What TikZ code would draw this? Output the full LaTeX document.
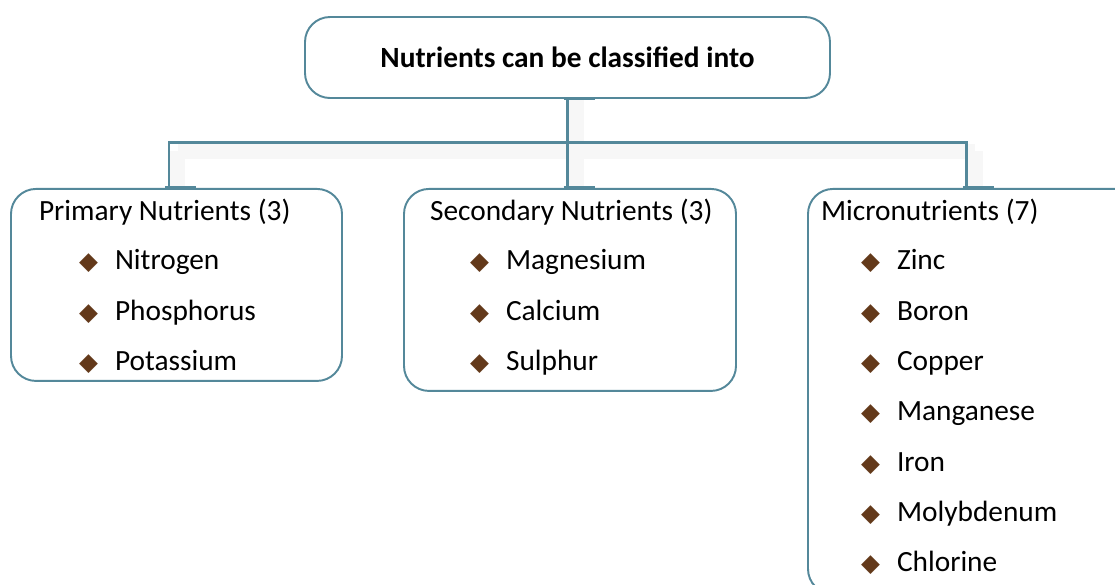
\documentclass[tikz,border=0pt]{standalone}
\usepackage{fontspec}
\setmainfont{Carlito}
\newfontfamily\markfont{DejaVu Sans}
\usetikzlibrary{positioning,calc}
\definecolor{SlateLine}{RGB}{84,136,154}
\definecolor{NutBrown}{RGB}{99,57,26}
\newcommand{\nutmark}{\makebox[0.72cm][l]{\textcolor{NutBrown}{\markfont\fontsize{14}{14}\selectfont ◆}}}
\tikzset{
  link/.style={draw=SlateLine,line width=1.7pt},
  haze/.style={draw=black!3,line width=0.3cm},
  groupbox/.style={draw=SlateLine,line width=1.1pt,rounded corners=0.5cm,fill=white},
  titlebox/.style={groupbox,minimum width=10.5cm,minimum height=1.62cm,
    font=\fontsize{16.7}{20}\selectfont\bfseries},
  headline/.style={inner sep=0pt,outer sep=0pt,text height=0.4cm,text depth=0.1cm,anchor=north west,
    font=\fontsize{16.7}{20}\selectfont},
  entry/.style={headline}
}

\begin{document}
\begin{tikzpicture}
  \useasboundingbox (0,0) rectangle (22.3,-11.68);
  \clip (0,0) rectangle (22.3,-11.68);
  \node[titlebox] (title) at (11.35,-1.15) {Nutrients can be classified into};
  \node[groupbox,below=1.78cm of title,xshift=-7.82cm,minimum width=6.62cm,minimum height=3.84cm] (primary) {};
  \node[groupbox,below=1.78cm of title,xshift=0.05cm,minimum width=6.64cm,minimum height=4.04cm] (secondary) {};
  \node[groupbox,below=1.78cm of title,xshift=8.13cm,minimum width=6.64cm,minimum height=8.1cm] (micro) {};
  \coordinate (bus) at ($(title.south)+(0,-0.88)$);
  \coordinate (lfoot) at ([xshift=-0.15cm]primary.north);
  \coordinate (rfoot) at ([xshift=-0.15cm]micro.north);
  \coordinate (mfoot) at (bus |- secondary.north);
  \draw[haze] ($(title.south)+(0.17,0)$) -- ($(mfoot)+(0.17,0)$);
  \draw[haze] ($(lfoot |- bus)+(0.17,-0.17)$) -- ($(rfoot |- bus)+(0.17,-0.17)$);
  \draw[haze] ($(lfoot |- bus)+(0.17,-0.17)$) -- ($(lfoot)+(0.17,0)$);
  \draw[haze] ($(rfoot |- bus)+(0.17,-0.17)$) -- ($(rfoot)+(0.17,0)$);
  \draw[link] (title.south) -- (bus);
  \draw[link] (lfoot) |- (rfoot |- bus) -- (rfoot);
  \draw[link] (bus) -- (mfoot);
  \draw[link] ([xshift=-0.08cm]title.south) -- ++(0.62,0);
  \draw[link] ([xshift=-0.08cm]lfoot) -- ++(0.62,0);
  \draw[link] ([xshift=-0.08cm]mfoot) -- ++(0.62,0);
  \draw[link] ([xshift=-0.08cm]rfoot) -- ++(0.62,0);

  \node[headline,below right=0.26cm and 0.58cm of primary.north west] (primaryhead) {Primary Nutrients (3)};
  \node[below=0.48cm of primaryhead.south west,entry,xshift=0.8cm] (nitrogen) {\nutmark Nitrogen};
  \node[below=0.506cm of nitrogen.south west,entry] (phosphorus) {\nutmark Phosphorus};
  \node[below=0.506cm of phosphorus.south west,entry] (potassium) {\nutmark Potassium};

  \node[headline,below right=0.26cm and 0.54cm of secondary.north west] (secondaryhead) {Secondary Nutrients (3)};
  \node[below=0.48cm of secondaryhead.south west,entry,xshift=0.8cm] (magnesium) {\nutmark Magnesium};
  \node[below=0.506cm of magnesium.south west,entry] (calcium) {\nutmark Calcium};
  \node[below=0.506cm of calcium.south west,entry] (sulphur) {\nutmark Sulphur};

  \node[headline,below right=0.26cm and 0.28cm of micro.north west] (microhead) {Micronutrients (7)};
  \node[below=0.48cm of microhead.south west,entry,xshift=0.8cm] (zinc) {\nutmark Zinc};
  \node[below=0.506cm of zinc.south west,entry] (boron) {\nutmark Boron};
  \node[below=0.506cm of boron.south west,entry] (copper) {\nutmark Copper};
  \node[below=0.506cm of copper.south west,entry] (manganese) {\nutmark Manganese};
  \node[below=0.506cm of manganese.south west,entry] (iron) {\nutmark Iron};
  \node[below=0.506cm of iron.south west,entry] (molybdenum) {\nutmark Molybdenum};
  \node[below=0.506cm of molybdenum.south west,entry] (chlorine) {\nutmark Chlorine};
\end{tikzpicture}
\end{document}
